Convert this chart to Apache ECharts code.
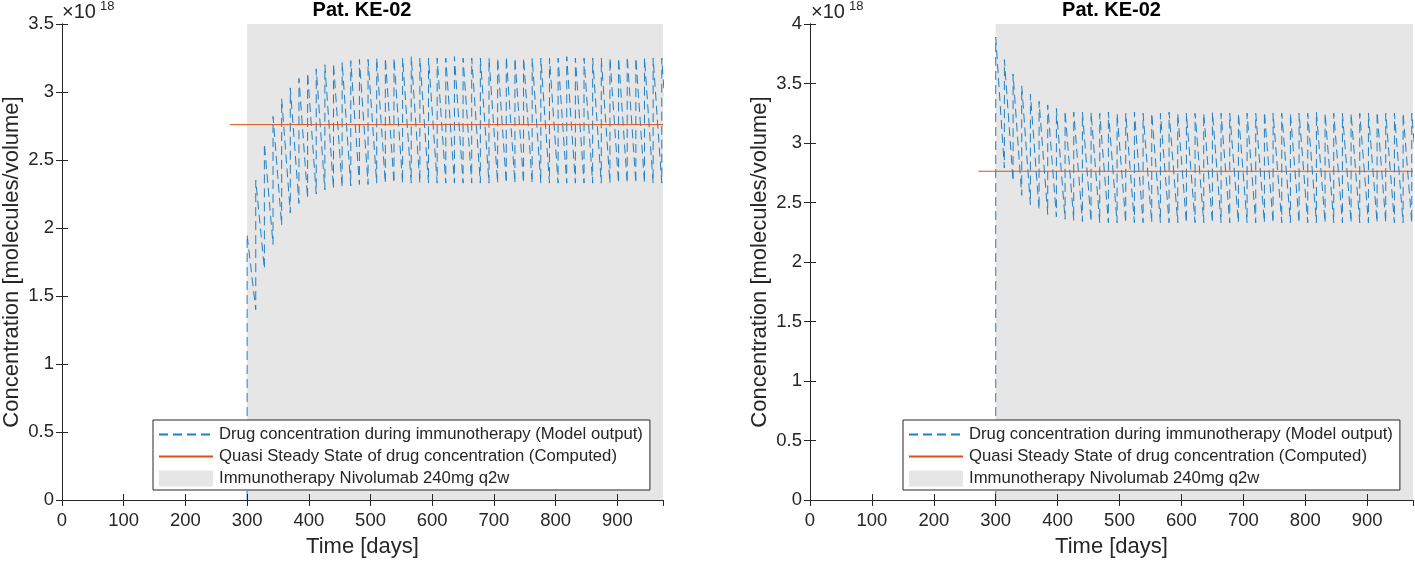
<!DOCTYPE html>
<html>
<head>
<meta charset="utf-8">
<script src="https://cdn.jsdelivr.net/npm/echarts@6/dist/echarts.min.js"></script>
<style>
html,body{margin:0;padding:0;background:#fff;}
#chart{width:1415px;height:563px;}
</style>
</head>
<body>
<div id="chart"></div>
<script>
// ---------------- DATA ----------------
const titles = ['Pat. KE-02', 'Pat. KE-02'];
const xLabel = 'Time [days]';
const yLabel = 'Concentration [molecules/volume]';
const exponentBase = '\u00d710';
const exponentPower = '18';
const legendNames = [
  'Drug concentration during immunotherapy (Model output)',
  'Quasi Steady State of drug concentration (Computed)',
  'Immunotherapy Nivolumab 240mg q2w'
];
const xMax = 974;
const yMaxLeft = 3.5;
const yMaxRight = 4;

// dose days (q2w) of the immunotherapy
const doseDays = [300,314,328,342,356,370,384,398,412,426,440,454,468,482,496,510,524,538,552,566,580,594,608,622,636,650,664,678,692,706,720,734,748,762,776,790,804,818,832,846,860,874,888,902,916,930,944,958,972];
const drugStart = 0; // concentration just before first dose (x10^18)

// left panel: peak right after each dose, trough 14 days later (x10^18)
const leftPeaks = [1.95,2.35,2.62,2.82,2.95,3.03,3.10,3.14,3.17,3.20,3.21,3.22,3.23,3.24,3.24,3.25,3.25,3.25,3.25,3.26,3.25,3.25,3.25,3.25,3.26,3.25,3.25,3.25,3.25,3.25,3.26,3.25,3.25,3.25,3.25,3.25,3.25,3.26,3.25,3.25,3.25,3.25,3.25,3.25,3.26,3.25,3.25,3.25,3.25];
const leftTroughs = [1.40,1.70,1.88,2.02,2.11,2.18,2.22,2.25,2.28,2.29,2.30,2.31,2.32,2.32,2.33,2.33,2.33,2.33,2.33,2.33,2.33,2.33,2.33,2.33,2.33,2.33,2.33,2.33,2.33,2.33,2.33,2.33,2.33,2.33,2.33,2.33,2.33,2.33,2.33,2.33,2.33,2.33,2.33,2.33,2.33,2.33,2.33,2.33,2.33];

// right panel
const rightPeaks = [3.89,3.70,3.58,3.48,3.41,3.35,3.32,3.29,3.27,3.26,3.26,3.26,3.25,3.26,3.25,3.25,3.26,3.25,3.25,3.25,3.26,3.25,3.25,3.25,3.25,3.26,3.25,3.25,3.25,3.25,3.25,3.26,3.25,3.25,3.25,3.25,3.25,3.26,3.25,3.25,3.25,3.25,3.25,3.25,3.26,3.25,3.25,3.25,3.25];
const rightTroughs = [2.79,2.68,2.56,2.48,2.44,2.40,2.38,2.36,2.35,2.34,2.34,2.33,2.33,2.33,2.33,2.33,2.33,2.33,2.33,2.33,2.33,2.33,2.33,2.33,2.33,2.33,2.33,2.33,2.33,2.33,2.33,2.33,2.33,2.33,2.33,2.33,2.33,2.33,2.33,2.33,2.33,2.33,2.33,2.33,2.33,2.33,2.33,2.33,2.33];

// quasi steady state line
const qssDays = [272, 974];
const qssLeft = 2.76;
const qssRight = 2.7625;

// therapy period shading
const therapyDays = [300, 974];

// ---------------- BUILD ----------------
const FONT = '"Liberation Sans", Arial, Helvetica, sans-serif';
const AX = '#262626';
const BLUE = '#1f80c6';

function drugSeriesData(peaks, troughs) {
  const pts = [[doseDays[0], drugStart]];
  for (let k = 0; k < doseDays.length; k++) {
    pts.push([doseDays[k], peaks[k]]);
    pts.push([doseDays[k] + 14, troughs[k]]);
  }
  return pts;
}

const grids = [
  {left: 61, right: 752, top: 24, bottom: 59},
  {left: 810, right: 2, top: 24, bottom: 59}
];
const yMaxes = [yMaxLeft, yMaxRight];
const qssVals = [qssLeft, qssRight];
const peakSets = [leftPeaks, rightPeaks];
const troughSets = [leftTroughs, rightTroughs];

const xAxes = [], yAxes = [], series = [], legends = [], titleArr = [], graphics = [];

grids.forEach((g, i) => {
  const common = {
    type: 'value', gridIndex: i, min: 0, max: xMax, interval: 100, z: 10,
    axisLine: {show: true, lineStyle: {color: AX, width: 1}},
    axisTick: {show: true, inside: true, length: 6, lineStyle: {color: AX, width: 1}},
    splitLine: {show: false}
  };
  xAxes.push(Object.assign({}, common, {
    position: 'bottom',
    name: xLabel, nameLocation: 'middle', nameGap: 36,
    nameTextStyle: {fontFamily: FONT, fontSize: 22, color: AX},
    axisLabel: {show: true, fontFamily: FONT, fontSize: 18.5, color: AX, margin: 11, showMaxLabel: false}
  }));
  xAxes.push(Object.assign({}, common, {position: 'top', axisLabel: {show: false}}));

  const ycommon = {
    type: 'value', gridIndex: i, min: 0, max: yMaxes[i], interval: 0.5, z: 10,
    axisLine: {show: true, lineStyle: {color: AX, width: 1}},
    axisTick: {show: true, inside: true, length: 6, lineStyle: {color: AX, width: 1}},
    splitLine: {show: false}
  };
  yAxes.push(Object.assign({}, ycommon, {
    position: 'left',
    name: yLabel, nameLocation: 'middle', nameGap: 39,
    nameTextStyle: {fontFamily: FONT, fontSize: 22, color: AX},
    axisLabel: {show: true, fontFamily: FONT, fontSize: 18.5, color: AX, margin: 8}
  }));
  yAxes.push(Object.assign({}, ycommon, {position: 'right', axisLabel: {show: false}}));

  series.push({
    name: legendNames[2], type: 'line', xAxisIndex: 2 * i, yAxisIndex: 2 * i,
    data: [[therapyDays[0], yMaxes[i]], [therapyDays[1], yMaxes[i]]],
    symbol: 'none', lineStyle: {width: 0, color: '#e6e6e6'}, itemStyle: {color: '#e6e6e6'},
    areaStyle: {color: '#e6e6e6', opacity: 1}, z: 1, silent: true
  });
  series.push({
    name: legendNames[0], type: 'line', xAxisIndex: 2 * i, yAxisIndex: 2 * i,
    data: drugSeriesData(peakSets[i], troughSets[i]),
    symbol: 'none', clip: true,
    lineStyle: {width: 1, color: BLUE, type: [9, 5]}, itemStyle: {color: BLUE}, z: 2
  });
  series.push({
    name: legendNames[1], type: 'line', xAxisIndex: 2 * i, yAxisIndex: 2 * i,
    data: [[qssDays[0], qssVals[i]], [qssDays[1], qssVals[i]]],
    symbol: 'none', clip: true,
    lineStyle: {width: 1, color: '#D95319'}, itemStyle: {color: '#D95319'}, z: 3
  });

  const legLeft = i === 0 ? 153 : 903;
  legends.push({
    orient: 'vertical', left: legLeft, top: 420,
    padding: [6, 7, 3, 5], itemGap: 5, itemWidth: 54, itemHeight: 16,
    backgroundColor: '#ffffff', borderColor: AX, borderWidth: 1, borderRadius: 0,
    selectedMode: false, z: 20,
    textStyle: {fontFamily: FONT, fontSize: 16.7, color: AX, lineHeight: 16, padding: [0, 0, 0, 1]},
    data: [
      {name: legendNames[0], itemStyle: {opacity: 0}},
      {name: legendNames[1], itemStyle: {opacity: 0}},
      {name: legendNames[2], icon: 'rect', itemStyle: {color: '#e6e6e6'}}
    ]
  });

  const cx = i === 0 ? 362 : 1111.5;
  titleArr.push({
    text: titles[i], left: cx, top: 0, textAlign: 'center', padding: 0,
    textStyle: {fontFamily: FONT, fontSize: 20, fontWeight: 'bold', color: '#000'}
  });

  const ex = i === 0 ? 62 : 811;
  graphics.push({type: 'text', left: ex, top: 2, z: 30,
    style: {text: exponentBase, font: '20px ' + FONT, fill: AX}});
  graphics.push({type: 'text', left: ex + 38, top: 0, z: 30,
    style: {text: exponentPower, font: '13px ' + FONT, fill: AX}});
});

const chart = echarts.init(document.getElementById('chart'), null, {renderer: 'canvas'});
chart.setOption({
  animation: false,
  backgroundColor: '#ffffff',
  title: titleArr,
  grid: grids,
  xAxis: xAxes,
  yAxis: yAxes,
  legend: legends,
  series: series,
  graphic: graphics
});
</script>
</body>
</html>
